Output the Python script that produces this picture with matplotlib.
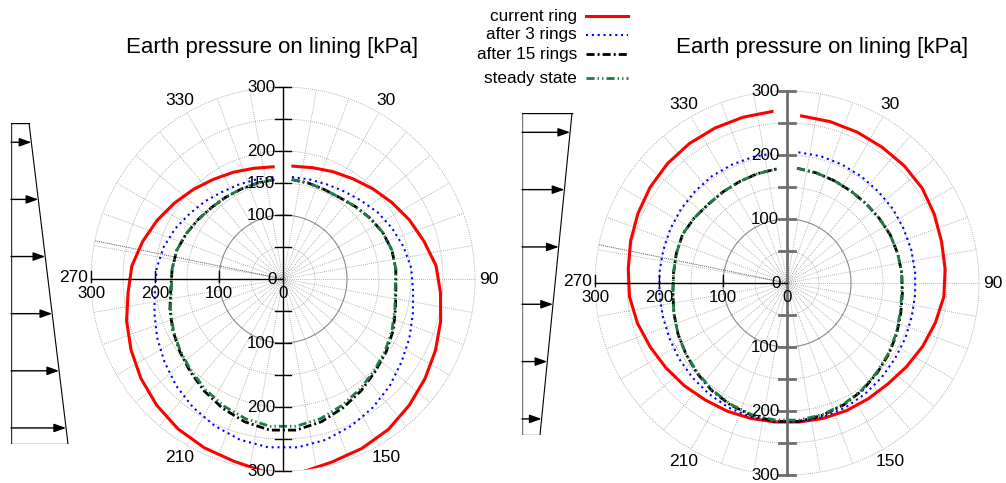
import numpy as np
import matplotlib
matplotlib.use("Agg")
import matplotlib.pyplot as plt
from matplotlib.patches import Circle

plt.rcParams['font.family'] = ['Liberation Sans', 'DejaVu Sans']

# angles of the lining points, clockwise from the crown [deg]
angles = [5, 15, 25, 35, 45, 55, 65, 75, 85, 95, 105, 115, 125, 135, 145, 155, 165, 175,
          185, 195, 205, 215, 225, 235, 245, 255, 265, 275, 285, 295, 305, 315, 325, 335, 345, 355]

# earth pressure on lining [kPa], load case with pressure increasing with depth
left_current = [177, 180, 185, 191, 199, 208, 218, 228, 240, 247, 255, 263, 271, 279, 287, 292, 296, 304,
                 303, 295, 291, 286, 279, 271, 262, 253, 243, 237, 227, 217, 207, 198, 190, 184, 179, 176]
left_after3 = [160, 161, 163, 167, 173, 181, 188, 195, 201, 204, 210, 218, 226, 236, 245, 253, 260, 264,
               264, 260, 253, 245, 236, 226, 217, 208, 201, 198, 193, 186, 178, 172, 166, 163, 161, 160]
left_after15 = [156, 155, 154, 155, 160, 166, 172, 176, 177, 177, 182, 190, 197, 204, 213, 222, 231, 237,
                237, 231, 223, 214, 205, 197, 190, 183, 176, 174, 172, 167, 162, 158, 156, 155, 155, 156]
left_steady = [156, 155, 154, 155, 160, 166, 172, 176, 177, 176, 181, 188, 195, 202, 210, 218, 226, 231,
               231, 226, 219, 211, 203, 196, 189, 182, 175, 174, 172, 167, 162, 158, 156, 155, 155, 156]

# load case with pressure decreasing with depth
right_current = [262, 261, 260, 259, 259, 258, 254, 250, 248, 246, 240, 234, 228, 223, 221, 220, 219, 218,
                 218, 219, 221, 223, 227, 231, 236, 242, 247, 249, 253, 257, 261, 264, 266, 267, 268, 269]
right_after3 = [205, 205, 204, 203, 202, 202, 201, 201, 201, 201, 202, 204, 206, 209, 212, 215, 217, 218,
                218, 217, 215, 212, 209, 206, 203, 201, 200, 200, 200, 201, 202, 203, 204, 204, 204, 204]
right_after15 = [180, 178, 176, 175, 175, 176, 178, 179, 180, 181, 184, 189, 194, 199, 205, 210, 214, 217,
                 217, 214, 210, 205, 199, 193, 188, 183, 179, 178, 179, 180, 177, 174, 174, 175, 177, 179]
right_steady = [180, 178, 176, 175, 175, 176, 178, 179, 180, 180, 183, 188, 193, 198, 204, 209, 213, 215,
                215, 213, 209, 204, 198, 193, 188, 183, 179, 178, 179, 180, 177, 174, 174, 175, 177, 179]

series_labels = ["current ring", "after 3 rings", "after 15 rings", "steady state"]
series_styles = [
    dict(color="#ff0000", lw=2.2, ls="-"),
    dict(color="#0000ff", lw=1.5, ls=(0, (1, 1.8))),
    dict(color="#000000", lw=2.0, ls=(0, (2.9, 1.1, 0.7, 1.1))),
    dict(color="#1f7a45", lw=2.0, ls=(0, (2.9, 1.1, 0.5, 1.1, 0.5, 1.1))),
]

# applied load diagrams (relative load at top and bottom, arrow depths)
left_load = [18, 57]
right_load = [50, 18]
arrow_depths = [0.06, 0.238, 0.416, 0.594, 0.772, 0.95]

W, H = 1006, 483
k = 192 / 300.0  # px per kPa
fig = plt.figure(figsize=(W / 100, H / 100), dpi=100)


def polar_axes(cx, cy, x0, x1):
    ax = fig.add_axes([x0 / W, 0, (x1 - x0) / W, 1])
    ax.set_xlim((x0 - cx) / k, (x1 - cx) / k)
    ax.set_ylim(-(H - cy) / k, cy / k)
    ax.axis("off")
    return ax


def draw_polar(ax, data, axis_color, axis_lw, show150):
    th = np.radians(np.arange(0, 360, 10))
    for a in th:
        ax.plot([0, 300 * np.sin(a)], [0, 300 * np.cos(a)], color="#9a9a9a", lw=0.6,
                ls=(0, (1, 1.5)), zorder=1)
    t = np.linspace(0, 2 * np.pi, 361)
    for r in [50, 150, 200, 250, 300]:
        ax.plot(r * np.sin(t), r * np.cos(t), color="#9a9a9a", lw=0.6, ls=(0, (1, 1.5)), zorder=1)
    ax.plot(100 * np.sin(t), 100 * np.cos(t), color="#8a8a8a", lw=0.8, zorder=1)
    a = np.radians(281.5)
    ax.plot([0, 300 * np.sin(a)], [0, 300 * np.cos(a)], color="#555555", lw=0.7,
            ls=(0, (1, 1)), zorder=1)

    clip = Circle((0, 0), 300, transform=ax.transData)
    ang = np.radians(angles)
    for vals, st in zip(data, series_styles):
        v = np.array(vals, dtype=float)
        ln, = ax.plot(v * np.sin(ang), v * np.cos(ang), zorder=3, **st)
        ln.set_clip_path(clip)

    # axes through the origin
    ax.plot([0, 0], [-300, 300], color=axis_color, lw=axis_lw, zorder=4)
    ax.plot([-300, 0], [0, 0], color="black", lw=1.0, zorder=4)
    for r in [50, 100, 150, 200, 250, 300]:
        for s in (1, -1):
            ax.plot([-13, 13], [s * r, s * r], color=axis_color, lw=axis_lw, zorder=4)
    for r in [100, 200, 300]:
        ax.plot([-r, -r], [-5, 12], color="black", lw=1.0, zorder=4)

    fs = 12.2
    ticks_top = [100, 200, 300] + ([150] if show150 else [])
    for r in ticks_top:
        ax.text(-12, r, str(r), ha="right", va="center", fontsize=fs, zorder=5)
    for r in [100, 200, 300]:
        ax.text(-12, -r, str(r), ha="right", va="center", fontsize=fs, zorder=5)
        ax.text(-r, -23, str(r), ha="center", va="center", fontsize=fs, zorder=5)
    ax.text(-10, 0, "0", ha="right", va="center", fontsize=fs, zorder=5)
    ax.text(0, -23, "0", ha="center", va="center", fontsize=fs, zorder=5)
    for d in [30, 90, 150, 210, 270, 330]:
        rr = 322 if d != 270 else 328
        a = np.radians(d)
        ax.text(rr * np.sin(a), rr * np.cos(a) + (3 if d == 270 else 0), str(d),
                ha="center", va="center", fontsize=12.5, zorder=5)


def draw_load(x0, y_top, y_bot, loads, color_left):
    ax = fig.add_axes([x0 / W, (H - y_bot) / H, 75 / W, (y_bot - y_top) / H])
    ax.set_xlim(0, 75)
    ax.set_ylim(1, 0)
    ax.axis("off")
    ax.plot([0, 0], [0, 1], color=color_left, lw=1.0)
    ax.plot([0, loads[0]], [0, 0], color="black", lw=1.0)
    ax.plot([0, loads[1]], [1, 1], color="#555555", lw=1.0)
    ax.plot(loads, [0, 1], color="black", lw=0.8)
    for d in arrow_depths:
        q = loads[0] + (loads[1] - loads[0]) * d
        ax.annotate("", xy=(q, d), xytext=(0, d),
                    arrowprops=dict(arrowstyle="-|>,head_length=0.9,head_width=0.32",
                                    color="black", lw=1.0, shrinkA=0, shrinkB=0,
                                    mutation_scale=8))


axL = polar_axes(283, 279, 0, 503)
draw_polar(axL, [left_current, left_after3, left_after15, left_steady], "black", 1.0, True)
axR = polar_axes(787, 283, 503, 1006)
draw_polar(axR, [right_current, right_after3, right_after15, right_steady], "#6e6e6e", 2.0, False)

draw_load(11, 123, 444, left_load, "#333333")
draw_load(522, 113, 435, right_load, "#777777")

fig.text(272 / W, 1 - 47 / H, "Earth pressure on lining [kPa]", ha="center", va="center", fontsize=16)
fig.text(822 / W, 1 - 47 / H, "Earth pressure on lining [kPa]", ha="center", va="center", fontsize=16)

# legend at the top centre
leg_y = [16, 35, 54, 78]
for lab, st, y in zip(series_labels, series_styles, leg_y):
    fig.text(577 / W, 1 - y / H, lab, ha="right", va="center", fontsize=12.3)
    fig.add_artist(plt.Line2D([586 / W, 628 / W], [1 - y / H, 1 - y / H],
                              transform=fig.transFigure, **st))

fig.savefig("out.png", dpi=100)
